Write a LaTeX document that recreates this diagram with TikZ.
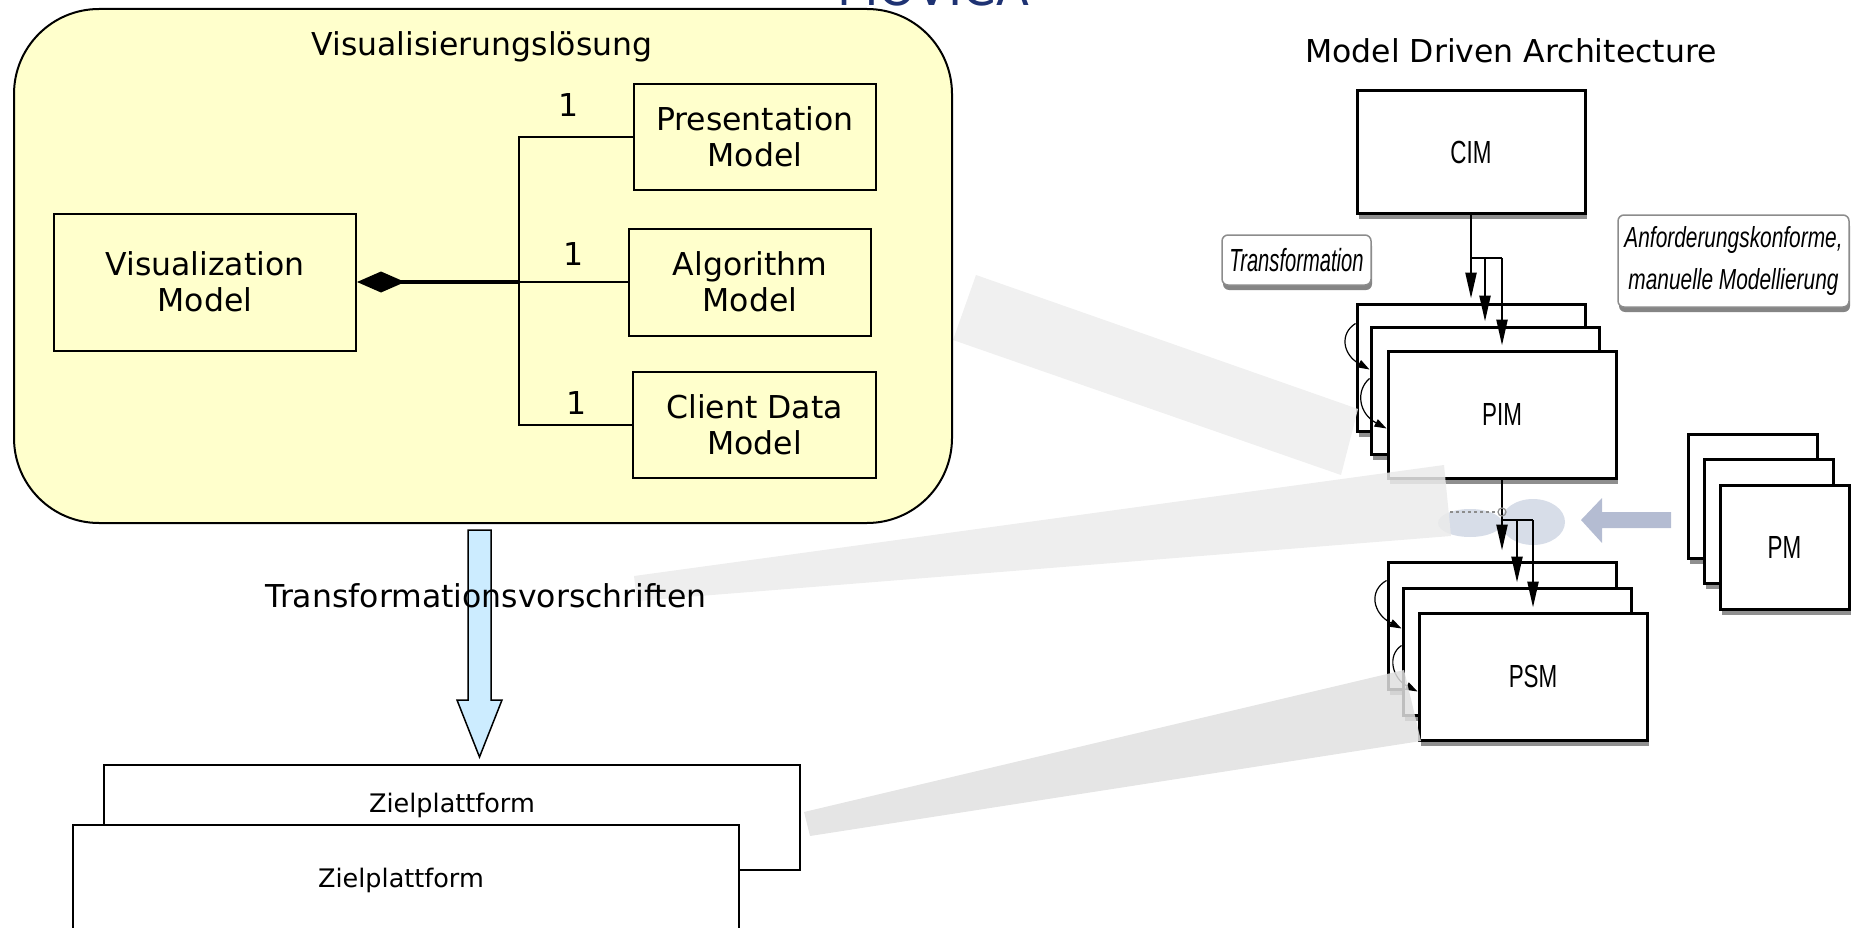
\documentclass[tikz,border=0pt]{standalone}
\usepackage{fontspec}
\setmainfont{DejaVu Sans}
\newfontfamily\narrowsans[FakeStretch=0.7]{Liberation Sans}
\newfontfamily\narrowitalic[FakeStretch=0.63]{Liberation Sans}
\newfontfamily\narrownote[FakeStretch=0.72]{Liberation Sans}
\usetikzlibrary{arrows.meta,shadows}

\definecolor{solutionfill}{RGB}{255,255,204}
\definecolor{transfill}{RGB}{204,236,255}
\definecolor{titleblue}{RGB}{30,50,115}
\definecolor{pmarrow}{RGB}{180,188,210}
\definecolor{mergecloud}{RGB}{205,212,226}

\tikzset{
  txt/.style={font=\fontsize{31.5}{36}\selectfont, inner sep=0pt},
  umlbox/.style={draw, line width=2pt, fill=solutionfill, inner sep=0pt, align=center,
    font=\fontsize{31.5}{36}\selectfont},
  mdabox/.style={draw, line width=3pt, fill=white, inner sep=0pt,
    minimum width=228pt, minimum height=127pt,
    drop shadow={shadow xshift=2pt, shadow yshift=-6pt, fill=black!55, opacity=0.8},
    font=\narrowsans\fontsize{32}{36}\selectfont},
  pmbox/.style={mdabox, minimum width=129pt, minimum height=124pt},
  notebox/.style={draw=black!45, line width=1.5pt, fill=white, rounded corners=6pt, inner sep=0pt,
    drop shadow={shadow xshift=1pt, shadow yshift=-5pt, fill=black!60, opacity=0.8}},
  flow/.style={line width=2.4pt},
  flowarrow/.style={flow, -{Triangle[length=26pt,width=11pt]}, shorten >=4pt},
  refine/.style={line width=1.2pt, -{Triangle[length=12pt,width=8pt]}},
  platform/.style={draw, line width=2pt, fill=white, inner sep=0pt},
  platformtxt/.style={font=\fontsize{25.5}{30}\selectfont, inner sep=0pt},
}

\begin{document}
\begin{tikzpicture}[x=1pt,y=-1pt]
\useasboundingbox (0,0) rectangle (1854,928);
\clip (0,0) rectangle (1854,928);

% heading, running off the upper edge
\node[anchor=base, text=titleblue, font=\fontsize{48}{48}\selectfont, inner sep=0pt] (heading) at (933,6) {MOVICA};

% ---------------- Model Driven Architecture ----------------
\node[txt, anchor=base] (mdatitle) at (1511,63) {Model Driven Architecture};

\node[mdabox, minimum height=122pt] (cim) at (1471,152) {CIM};

\node[notebox, minimum width=149pt, minimum height=50pt,
      font=\narrowitalic\itshape\fontsize{32}{36}\selectfont] (transnote) at (1296.5,260) {Transformation};
\node[notebox, minimum width=231pt, minimum height=92pt, align=center,
      font=\narrownote\itshape\fontsize{29}{42}\selectfont] (reqnote) at (1733.5,261) {Anforderungskonforme,\\manuelle Modellierung};

% PIM stack
\node[mdabox] (pimA) at (1471,367.5) {};
\node[mdabox] (pimB) at (1485,390.5) {};
\node[mdabox] (pimC) at (1502,414.5) {PIM};

% PSM stack
\node[mdabox] (psmA) at (1502,625.5) {};
\node[mdabox] (psmB) at (1517,651.5) {};
\node[mdabox] (psmC) at (1533,676.5) {PSM};

% PM stack
\node[pmbox] (pmA) at (1752.5,496) {};
\node[pmbox] (pmB) at (1768.5,521) {};
\node[pmbox] (pmC) at (1784.5,547) {PM};

% CIM -> PIM
\coordinate (cimfork) at (1471,258);
\draw[flowarrow] (cim.south) -- (pimA.north);
\draw[flow] (cimfork) -- (cimfork -| pimC.north);
\draw[flowarrow] (cimfork -| pimB.north) -- (pimB.north);
\draw[flowarrow] (cimfork -| pimC.north) -- (pimC.north);

% merge of PIM and PM
\fill[mergecloud, opacity=0.8] (1470,523) ellipse [x radius=32, y radius=14];
\fill[mergecloud, opacity=0.8] (1533,522) ellipse [x radius=32, y radius=23];
\fill[pmarrow] (1671,512) -- (1602,512) -- (1602,498) -- (1581,520) -- (1602,543) -- (1602,528) -- (1671,528) -- cycle;

% PIM -> PSM
\coordinate (pimfork) at (1502,520);
\draw[flowarrow, shorten >=10pt] (pimC.south) -- (psmA.north);
\draw[flow] (pimfork) -- (pimfork -| psmC.north);
\draw[flowarrow] (pimfork -| psmB.north) -- (psmB.north);
\draw[flowarrow] (pimfork -| psmC.north) -- (psmC.north);
\node[circle, draw=black!45, line width=1.2pt, minimum size=8pt, inner sep=0pt] (merge) at (1502,512) {};
\coordinate (pmlink) at (1450,512);
\draw[dashed, black!45, line width=1.2pt] (pmlink) -- (merge);

% refinement loops on the left of the stacks
\draw[refine] ([yshift=-21pt]pimA.north west) .. controls +(-16,10) and +(-27,-15) .. ([yshift=-44pt]pimB.north west);
\draw[refine] ([yshift=-53pt]pimB.north west) .. controls +(-14,12) and +(-28,-15) .. ([yshift=-79pt]pimC.north west);
\draw[refine] ([yshift=-20pt]psmA.north west) .. controls +(-18,10) and +(-29,-15) .. ([yshift=-42pt]psmB.north west);
\draw[refine] ([yshift=-59pt]psmB.north west) .. controls +(-15,10) and +(-25,-13) .. ([yshift=-80pt]psmC.north west);

% light beams linking both halves
\fill[black!7, fill opacity=0.85] (976,275) -- (1358,409) -- (1341,475) -- (953,340) -- cycle;
\fill[black!8, fill opacity=0.85] (634,576) -- (1444,465) -- (1451,536) -- (637,601) -- cycle;
\fill[black!12, fill opacity=0.85] (804,812) -- (1404,670) -- (1421,741) -- (810,836) -- cycle;

% ---------------- Visualisierungsloesung ----------------
\node[draw, line width=2pt, fill=solutionfill, rounded corners=85pt,
      minimum width=938pt, minimum height=514pt] (solution) at (483,266) {};
\node[txt, anchor=base] (soltitle) at (482,56) {Visualisierungslösung};

\node[umlbox, minimum width=302pt, minimum height=137pt] (vis) at (205,282) {Visualization\\Model};
\node[umlbox, minimum width=242pt, minimum height=106pt] (pres) at (755,137) {Presentation\\Model};
\node[umlbox, minimum width=242pt, minimum height=107pt] (alg) at (750,282) {Algorithm\\Model};
\node[umlbox, minimum width=243pt, minimum height=106pt] (cli) at (754.5,425) {Client Data\\Model};

\coordinate (bus) at (519,282);
\draw[line width=2pt] (pres.west) -| (bus) |- (cli.west);
\draw[line width=2pt] (bus) -- (alg.west);
\draw[line width=4pt, {Diamond[length=48pt,width=21pt]}-] (vis.east) -- (bus);

\node[txt] (mult1) at (569,105) {1};
\node[txt] (mult2) at (574,254) {1};
\node[txt] (mult3) at (577,403) {1};

% transformation arrow
\draw[line width=1.5pt, fill=transfill] (468,530) -- (491,530) -- (491,700) -- (502,700)
  -- (479.5,757) -- (457,700) -- (468,700) -- cycle;
\node[txt, anchor=base] (rules) at (486,607) {Transformationsvorschriften};

% target platforms
\node[platform, minimum width=696pt, minimum height=105pt] (zielback) at (452,817.5) {};
\node[platformtxt, anchor=base] (zielbacklabel) at (452,812) {Zielplattform};
\node[platform, minimum width=666pt, minimum height=120pt] (zielfront) at (406,885) {};
\node[platformtxt, anchor=base] (zielfrontlabel) at (401,887) {Zielplattform};

\end{tikzpicture}
\end{document}
